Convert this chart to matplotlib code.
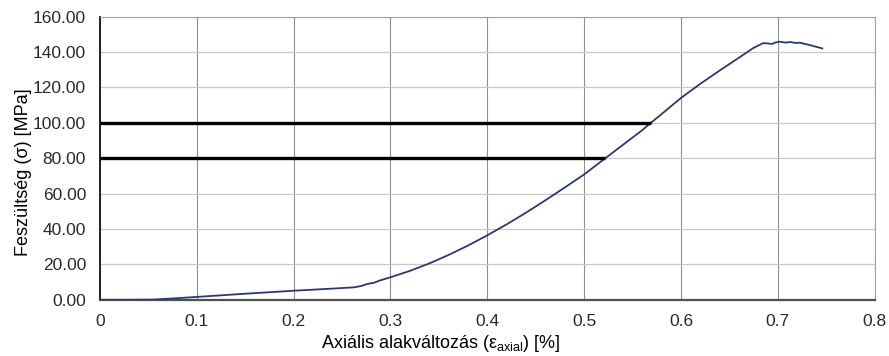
import matplotlib
matplotlib.use("Agg")
import matplotlib.pyplot as plt
from matplotlib.ticker import FormatStrFormatter

plt.rcParams["font.family"] = ["Liberation Sans", "DejaVu Sans"]
plt.rcParams["mathtext.fontset"] = "custom"
plt.rcParams["mathtext.rm"] = "Liberation Sans"
plt.rcParams["mathtext.it"] = "Liberation Sans"

strain = [0.0, 0.03, 0.055, 0.08, 0.10, 0.15, 0.20, 0.24, 0.262, 0.270, 0.276,
          0.283, 0.289, 0.300, 0.320, 0.340, 0.360, 0.380, 0.400, 0.420, 0.440,
          0.460, 0.480, 0.500, 0.522, 0.540, 0.560, 0.569, 0.580, 0.600, 0.620,
          0.640, 0.660, 0.675, 0.685, 0.690, 0.694, 0.698, 0.702, 0.708, 0.713,
          0.718, 0.723, 0.733, 0.746]
stress = [0.0, 0.0, 0.1, 0.9, 1.6, 3.4, 5.1, 6.3, 7.0, 7.8, 8.9,
          9.6, 10.9, 12.7, 16.3, 20.5, 25.3, 30.6, 36.4, 42.6, 49.2,
          56.2, 63.4, 70.8, 80.0, 87.5, 95.8, 100.0, 104.9, 114.0, 122.0,
          129.5, 136.8, 142.3, 145.0, 144.8, 144.5, 145.4, 145.8, 145.3, 145.6,
          145.1, 145.2, 143.9, 142.0]

level_stress = [80.0, 100.0]
level_end = [0.522, 0.569]

fig = plt.figure(figsize=(8.89, 3.56), dpi=100)
ax = fig.add_axes([0.1125, 0.158, 0.8713, 0.7955])

ax.plot(strain, stress, color="#2b3a6e", lw=1.3, zorder=3)
for s, e in zip(level_stress, level_end):
    ax.plot([0, e], [s, s], color="black", lw=2.4, zorder=4, solid_capstyle="butt")

ax.set_xlim(0, 0.8)
ax.set_ylim(0, 160)
ax.set_xticks([0, 0.1, 0.2, 0.3, 0.4, 0.5, 0.6, 0.7, 0.8])
ax.set_xticklabels(["0", "0.1", "0.2", "0.3", "0.4", "0.5", "0.6", "0.7", "0.8"])
ax.set_yticks(range(0, 161, 20))
ax.yaxis.set_major_formatter(FormatStrFormatter("%.2f"))

ax.grid(axis="y", color="#c8c8c8", lw=0.9)
ax.grid(axis="x", color="#909090", lw=0.8)
ax.set_axisbelow(True)

for side in ["top", "right"]:
    ax.spines[side].set_color("#a0a0a0")
ax.spines["left"].set_color("#202020")
ax.spines["left"].set_linewidth(1.4)
ax.spines["bottom"].set_color("#505050")
ax.spines["bottom"].set_linewidth(1.6)

ax.tick_params(labelsize=12.5, colors="#2a2a2a", length=0, pad=10)
ax.set_xlabel(r"Axiális alakváltozás (ε$_{\mathrm{axial}}$) [%]", fontsize=13, labelpad=3, x=0.44)
ax.set_ylabel("Feszültség (σ) [MPa]", fontsize=13, labelpad=0.5, y=0.451)

fig.savefig("out.png", dpi=100)
